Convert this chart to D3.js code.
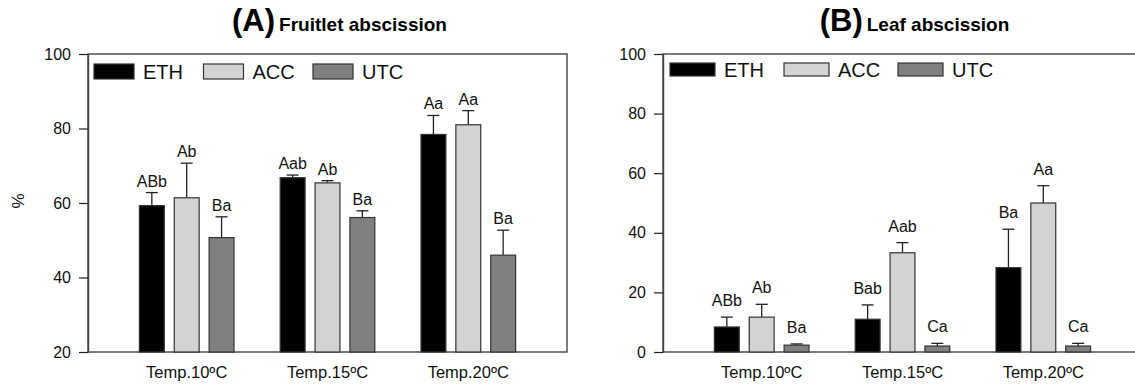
<!DOCTYPE html>
<html>
<head>
<meta charset="utf-8">
<script src="https://d3js.org/d3.v7.min.js"></script>
<style>
  body { margin: 0; background: #fff; }
  svg { font-family: "Liberation Sans", Arial, sans-serif; }
</style>
</head>
<body>
<div id="chart"></div>
<script>
// Categories and series
var categories = ['Temp.10ºC', 'Temp.15ºC', 'Temp.20ºC'];
var series = ['ETH', 'ACC', 'UTC'];
var colors = ['#000000', '#d3d3d3', '#808080'];

// (A) Fruitlet abscission (%), mean and upper error
var fruitletETH = [59.3, 66.8, 78.4];
var fruitletACC = [61.4, 65.4, 81.0];
var fruitletUTC = [50.7, 56.1, 46.0];
var fruitletETHErr = [3.5, 0.7, 5.1];
var fruitletACCErr = [9.3, 0.6, 3.8];
var fruitletUTCErr = [5.6, 1.8, 6.7];
var fruitletETHLetters = ['ABb', 'Aab', 'Aa'];
var fruitletACCLetters = ['Ab', 'Ab', 'Aa'];
var fruitletUTCLetters = ['Ba', 'Ba', 'Ba'];
var fruitletTicks = [20, 40, 60, 80, 100];

// (B) Leaf abscission (%)
var leafETH = [8.4, 11.0, 28.3];
var leafACC = [11.7, 33.3, 50.0];
var leafUTC = [2.3, 2.0, 2.0];
var leafETHErr = [3.3, 4.8, 12.9];
var leafACCErr = [4.3, 3.4, 5.8];
var leafUTCErr = [0.4, 0.9, 0.9];
var leafETHLetters = ['ABb', 'Bab', 'Ba'];
var leafACCLetters = ['Ab', 'Aab', 'Aa'];
var leafUTCLetters = ['Ba', 'Ca', 'Ca'];
var leafTicks = [0, 20, 40, 60, 80, 100];

var svg = d3.select('#chart').append('svg')
    .attr('width', 1135)
    .attr('height', 385);

function drawPanel(p) {
    var g = svg.append('g')
        .attr('transform', `translate(${p.left}, ${p.top})`);

    var width = 479, height = 298;

    var x0 = d3.scaleBand()
        .domain(categories)
        .range([0, width])
        .paddingInner(0.328)
        .paddingOuter(0.365);

    var x1 = d3.scaleBand()
        .domain(series)
        .range([0, x0.bandwidth()])
        .paddingInner(0.286);

    var y = d3.scaleLinear()
        .domain([p.ticks[0], 100])
        .range([height, 0]);

    // rows: one per bar
    var rows = [];
    categories.forEach(function(c, i) {
        series.forEach(function(s, j) {
            rows.push({
                cat: c, ser: s, color: colors[j],
                value: p.values[j][i],
                err: p.errs[j][i],
                letter: p.letters[j][i]
            });
        });
    });

    // Frame
    g.append('rect')
        .attr('x', 0).attr('y', 0)
        .attr('width', width).attr('height', height)
        .attr('fill', 'none')
        .attr('stroke', '#444')
        .attr('stroke-width', 1.4);

    // Left axis
    var leftAxis = d3.axisLeft(y)
        .tickValues(p.ticks)
        .tickSize(9)
        .tickPadding(8)
        .tickSizeOuter(0);
    var ya = g.append('g').call(leftAxis);
    ya.select('.domain').attr('stroke', '#444').attr('stroke-width', 1.4);
    ya.selectAll('.tick line').attr('stroke', '#222').attr('stroke-width', 1.2);
    ya.selectAll('.tick text')
        .attr('font-size', '16px')
        .attr('fill', '#111')
        .attr('font-family', '"Liberation Sans", Arial, sans-serif');

    // Category labels
    g.selectAll('.cat')
        .data(categories)
        .enter()
        .append('text')
        .attr('x', d => x0(d) + x0.bandwidth() / 2)
        .attr('y', height + 26)
        .attr('text-anchor', 'middle')
        .attr('font-size', '16.5px')
        .attr('fill', '#111')
        .text(d => d);

    // Error bars (upper only)
    var errs = g.selectAll('.err')
        .data(rows)
        .enter()
        .append('g');
    errs.append('line')
        .attr('x1', d => x0(d.cat) + x1(d.ser) + x1.bandwidth() / 2)
        .attr('x2', d => x0(d.cat) + x1(d.ser) + x1.bandwidth() / 2)
        .attr('y1', d => y(d.value))
        .attr('y2', d => y(d.value + d.err))
        .attr('stroke', '#222')
        .attr('stroke-width', 1.3);
    errs.append('line')
        .attr('x1', d => x0(d.cat) + x1(d.ser) + x1.bandwidth() / 2 - 6)
        .attr('x2', d => x0(d.cat) + x1(d.ser) + x1.bandwidth() / 2 + 6)
        .attr('y1', d => y(d.value + d.err))
        .attr('y2', d => y(d.value + d.err))
        .attr('stroke', '#222')
        .attr('stroke-width', 1.3);

    // Bars
    g.selectAll('.bar')
        .data(rows)
        .enter()
        .append('rect')
        .attr('x', d => x0(d.cat) + x1(d.ser))
        .attr('y', d => y(d.value))
        .attr('width', x1.bandwidth())
        .attr('height', d => height - y(d.value))
        .attr('fill', d => d.color)
        .attr('stroke', '#333')
        .attr('stroke-width', 1.2);

    // Significance letters
    g.selectAll('.letter')
        .data(rows)
        .enter()
        .append('text')
        .attr('x', d => x0(d.cat) + x1(d.ser) + x1.bandwidth() / 2)
        .attr('y', d => y(d.value + d.err) - p.letterGap)
        .attr('text-anchor', 'middle')
        .attr('font-size', '16px')
        .attr('fill', '#111')
        .text(d => d.letter);

    // Legend
    var leg = g.selectAll('.leg')
        .data(series)
        .enter()
        .append('g')
        .attr('transform', (d, i) => `translate(${p.legX + i * p.legStep}, ${p.legY})`);
    leg.append('rect')
        .attr('width', p.swW)
        .attr('height', p.swH)
        .attr('fill', (d, i) => colors[i])
        .attr('stroke', '#333')
        .attr('stroke-width', 1.2);
    leg.append('text')
        .attr('x', p.swW + 9)
        .attr('y', p.swH / 2 + 7.5)
        .attr('font-size', '20px')
        .attr('fill', '#111')
        .text(d => d);

    // Title
    var title = g.append('text')
        .attr('x', width / 2 + 12)
        .attr('y', -23)
        .attr('text-anchor', 'middle')
        .attr('font-weight', 'bold')
        .attr('fill', '#000');
    title.append('tspan').attr('font-size', '31px').text(p.letter);
    title.append('tspan').attr('font-size', '19px').attr('dx', 4).text(p.title);

    // y label
    if (p.ylabel) {
        g.append('text')
            .attr('transform', `translate(${-64}, ${height / 2 - 2}) rotate(-90)`)
            .attr('text-anchor', 'middle')
            .attr('font-size', '17px')
            .attr('fill', '#111')
            .text(p.ylabel);
    }
}

drawPanel({
    left: 88, top: 54,
    ticks: fruitletTicks,
    values: [fruitletETH, fruitletACC, fruitletUTC],
    errs: [fruitletETHErr, fruitletACCErr, fruitletUTCErr],
    letters: [fruitletETHLetters, fruitletACCLetters, fruitletUTCLetters],
    letterGap: 6,
    legX: 6, legY: 10, legStep: 109.5, swW: 40, swH: 15,
    letter: '(A)', title: 'Fruitlet abscission',
    ylabel: '%'
});

drawPanel({
    left: 663, top: 54,
    ticks: leafTicks,
    values: [leafETH, leafACC, leafUTC],
    errs: [leafETHErr, leafACCErr, leafUTCErr],
    letters: [leafETHLetters, leafACCLetters, leafUTCLetters],
    letterGap: 11,
    legX: 7, legY: 9, legStep: 114, swW: 45, swH: 13,
    letter: '(B)', title: 'Leaf abscission',
    ylabel: null
});
</script>
</body>
</html>
